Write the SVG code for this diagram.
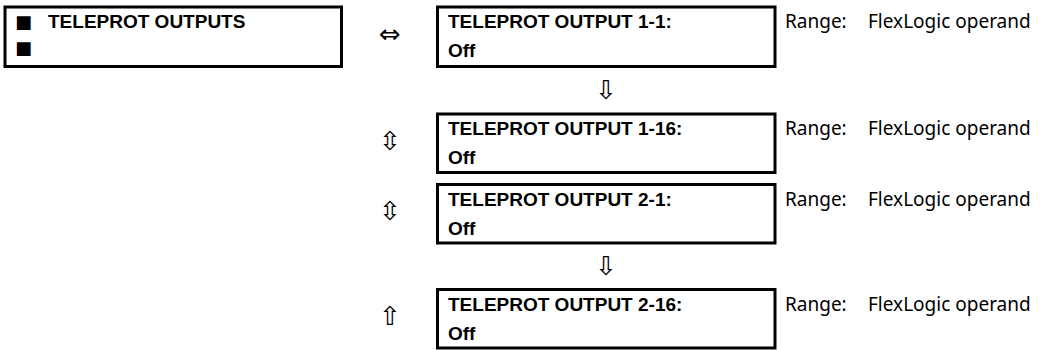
<svg xmlns="http://www.w3.org/2000/svg" width="1048" height="350" viewBox="0 0 1048 350">
<style>
.box{fill:#fff;stroke:#000;stroke-width:3}
.t{font-family:"Liberation Sans",Arial,sans-serif;font-weight:bold;font-size:19px;fill:#000}
.sq{font-family:"DejaVu Sans",sans-serif;font-size:18px;fill:#000}
.r{font-family:"Noto Sans","Open Sans",sans-serif;font-size:19px;fill:#000}
.ar{font-family:"DejaVu Sans",sans-serif;font-size:26px;fill:#000;text-anchor:middle}
</style>
<rect width="1048" height="350" fill="#fff"/>
<g id="menu">
<rect class="box" x="5" y="7" width="336.5" height="59.5"/>
<text class="sq" x="15" y="28">■</text>
<text class="t" x="48" y="28">TELEPROT OUTPUTS</text>
<text class="sq" x="15" y="54">■</text>
</g>
<g id="out-1-1">
<rect class="box" x="437.5" y="7" width="337.5" height="59.5"/>
<text class="t" x="448" y="28">TELEPROT OUTPUT 1-1:</text>
<text class="t" x="448" y="57">Off</text>
<text class="r" x="785" y="28">Range:</text>
<text class="r" x="868" y="28">FlexLogic operand</text>
</g>
<g id="out-1-16">
<rect class="box" x="437.5" y="114" width="337.5" height="58.5"/>
<text class="t" x="448" y="135">TELEPROT OUTPUT 1-16:</text>
<text class="t" x="448" y="164">Off</text>
<text class="r" x="785" y="135">Range:</text>
<text class="r" x="868" y="135">FlexLogic operand</text>
</g>
<g id="out-2-1">
<rect class="box" x="437.5" y="184.5" width="337.5" height="58.5"/>
<text class="t" x="448" y="205.5">TELEPROT OUTPUT 2-1:</text>
<text class="t" x="448" y="234.5">Off</text>
<text class="r" x="785" y="205.5">Range:</text>
<text class="r" x="868" y="205.5">FlexLogic operand</text>
</g>
<g id="out-2-16">
<rect class="box" x="437.5" y="289.5" width="337.5" height="58.5"/>
<text class="t" x="448" y="310.5">TELEPROT OUTPUT 2-16:</text>
<text class="t" x="448" y="339.5">Off</text>
<text class="r" x="785" y="310.5">Range:</text>
<text class="r" x="868" y="310.5">FlexLogic operand</text>
</g>
<g id="connectors">
<text class="ar" x="390" y="43">⇔</text>
<text class="ar" x="606" y="99">⇩</text>
<text class="ar" x="390" y="150">⇳</text>
<text class="ar" x="390" y="220">⇳</text>
<text class="ar" x="606" y="275">⇩</text>
<text class="ar" x="390" y="325">⇧</text>
</g>
</svg>
